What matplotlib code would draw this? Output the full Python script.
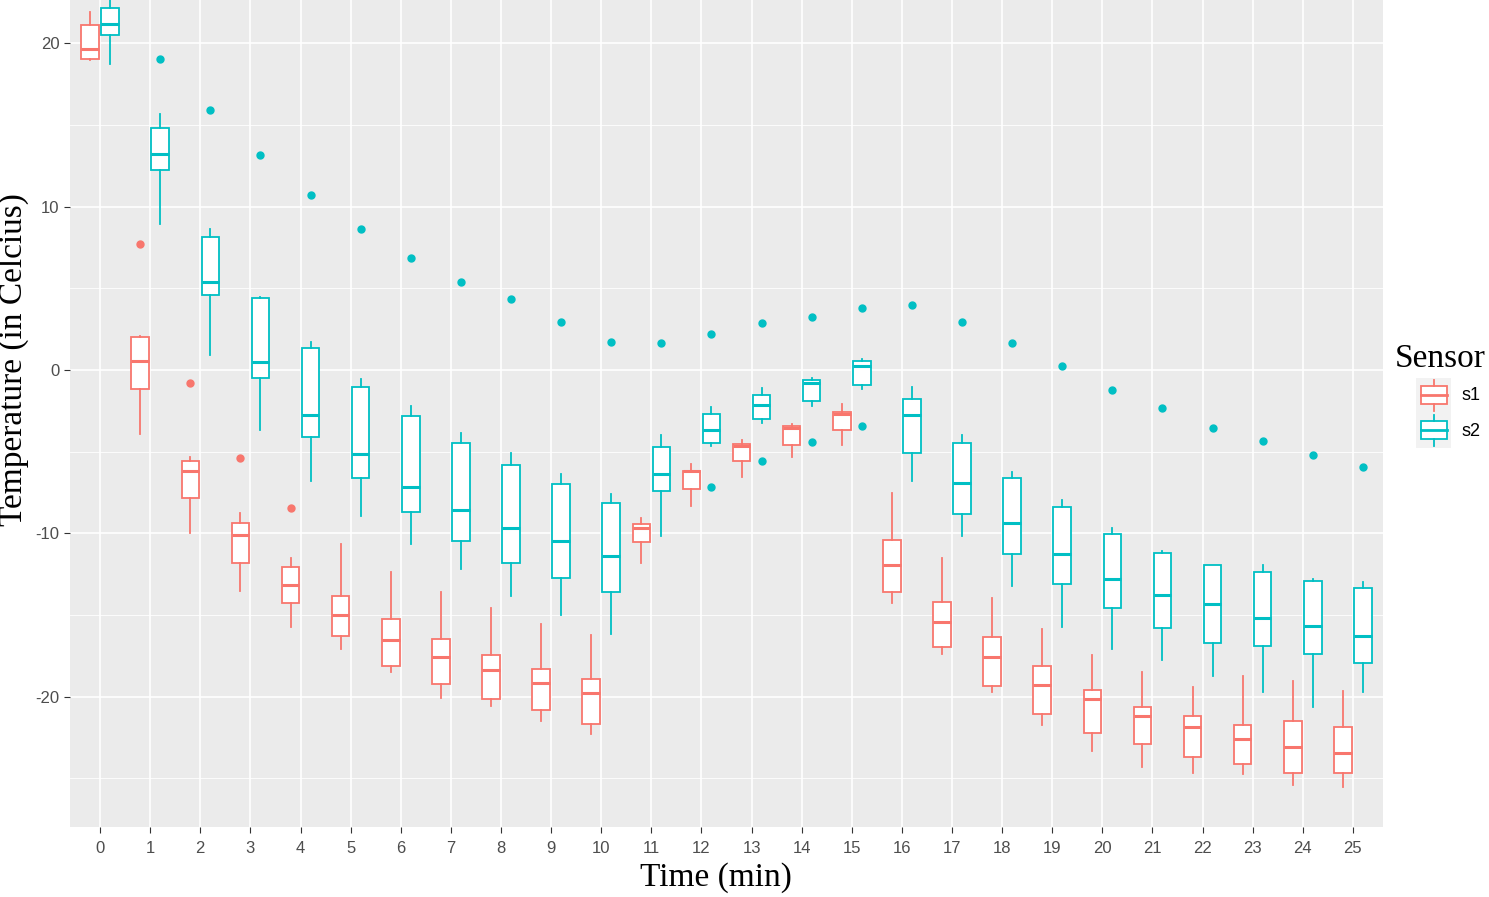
import matplotlib
matplotlib.use("Agg")
import matplotlib.pyplot as plt
from matplotlib.patches import Rectangle
from matplotlib.lines import Line2D

# ---- data ----
times = list(range(26))
tick_labels = [str(t) for t in times]

s1_low = [19.0, -3.94, -9.99, -13.5, -15.7, -17.1, -18.47, -20.07, -20.54, -21.48, -22.28,
          -11.84, -8.3, -6.57, -5.34, -4.57, -14.28, -17.38, -19.73, -21.73, -23.3,
          -24.31, -24.68, -24.72, -25.4, -25.5]
s1_q1 = [19.03, -1.14, -7.81, -11.83, -14.27, -16.27, -18.12, -19.22, -20.14, -20.82, -21.67,
         -10.53, -7.28, -5.59, -4.57, -3.65, -13.57, -16.93, -19.34, -21.05, -22.2,
         -22.9, -23.67, -24.1, -24.68, -24.68]
s1_med = [19.66, 0.55, -6.18, -10.08, -13.15, -14.98, -16.54, -17.58, -18.33, -19.15, -19.79,
          -9.64, -6.2, -4.67, -3.53, -2.67, -11.93, -15.44, -17.58, -19.26, -20.15,
          -21.18, -21.87, -22.58, -23.05, -23.42]
s1_q3 = [21.11, 2.04, -5.57, -9.38, -12.05, -13.82, -15.22, -16.49, -17.44, -18.31, -18.89,
         -9.43, -6.15, -4.55, -3.45, -2.55, -10.4, -14.18, -16.32, -18.12, -19.6,
         -20.6, -21.16, -21.73, -21.46, -21.87]
s1_high = [21.93, 2.1, -5.3, -8.77, -11.5, -10.65, -12.38, -13.6, -14.54, -15.55, -16.24,
           -9.05, -5.77, -4.3, -3.32, -2.08, -7.55, -11.52, -13.97, -15.85, -17.44,
           -18.5, -19.38, -18.73, -19.01, -19.65]
s1_out_t = [1, 2, 3, 4]
s1_out_v = [7.7, -0.78, -5.41, -8.47]

s2_low = [18.71, 8.93, 0.9, -3.67, -6.79, -8.92, -10.66, -12.16, -13.84, -14.99, -16.16,
          -10.14, -4.63, -3.22, -2.2, -1.16, -6.77, -10.16, -13.22, -15.71, -17.09,
          -17.75, -18.73, -19.69, -20.64, -19.69]
s2_q1 = [20.48, 12.26, 4.57, -0.51, -4.1, -6.63, -8.71, -10.47, -11.79, -12.71, -13.6,
         -7.38, -4.49, -3.02, -1.92, -0.9, -5.06, -8.83, -11.26, -13.1, -14.58,
         -15.77, -16.69, -16.89, -17.38, -17.91]
s2_med = [21.18, 13.2, 5.39, 0.49, -2.75, -5.16, -7.15, -8.54, -9.67, -10.49, -11.41,
          -6.35, -3.67, -2.12, -0.82, 0.24, -2.75, -6.9, -9.34, -11.28, -12.77,
          -13.77, -14.32, -15.16, -15.65, -16.28]
s2_q3 = [22.13, 14.81, 8.12, 4.43, 1.35, -1.02, -2.82, -4.49, -5.81, -6.99, -8.12,
         -4.73, -2.71, -1.51, -0.59, 0.53, -1.79, -4.45, -6.59, -8.37, -10.04,
         -11.22, -11.96, -12.34, -12.92, -13.36]
s2_high = [23.2, 15.65, 8.61, 4.5, 1.73, -0.57, -2.19, -3.84, -5.06, -6.35, -7.58,
           -4.0, -2.24, -1.1, -0.47, 0.65, -1.02, -3.98, -6.22, -7.96, -9.69,
           -11.08, -11.93, -11.95, -12.81, -13.0]
s2_out_t = [1, 2, 3, 4, 5, 6, 7, 8, 9, 10, 11, 12, 12, 13, 13, 14, 14, 15, 15,
            16, 17, 18, 19, 20, 21, 22, 23, 24, 25]
s2_out_v = [19.05, 15.91, 13.14, 10.73, 8.61, 6.87, 5.39, 4.35, 2.94, 1.74, 1.65, 2.2, -7.16,
            2.86, -5.59, 3.23, -4.39, 3.77, -3.45, 3.98, 2.96, 1.65, 0.24, -1.22, -2.34,
            -3.55, -4.36, -5.22, -5.95]

series_names = ["s1", "s2"]
colors = {"s1": "#F8766D", "s2": "#00BFC4"}

# ---- figure ----
W, H = 1489, 897
fig = plt.figure(figsize=(W / 100, H / 100), dpi=100)
fig.patch.set_facecolor("white")

left, right, top, bottom = 70, 1383, 0, 827
ax = fig.add_axes([left / W, 1 - bottom / H, (right - left) / W, (bottom - top) / H])
ax.set_facecolor("#EBEBEB")
for s in ax.spines.values():
    s.set_visible(False)

ax.set_xlim(-0.6, 25.6)
ax.set_ylim(-27.97, 22.65)

# grid
for y in [-25, -15, -5, 5, 15]:
    ax.axhline(y, color="white", lw=0.6, zorder=0)
for y in [-20, -10, 0, 10, 20]:
    ax.axhline(y, color="white", lw=1.2, zorder=0)
for x in times:
    ax.axvline(x, color="white", lw=1.2, zorder=0)

def make_stats(low, q1, med, q3, high, out_t, out_v):
    stats = []
    for i, t in enumerate(times):
        fl = [v for tt, v in zip(out_t, out_v) if tt == t]
        stats.append(dict(med=med[i], q1=q1[i], q3=q3[i], whislo=low[i], whishi=high[i], fliers=fl))
    return stats

data = {
    "s1": make_stats(s1_low, s1_q1, s1_med, s1_q3, s1_high, s1_out_t, s1_out_v),
    "s2": make_stats(s2_low, s2_q1, s2_med, s2_q3, s2_high, s2_out_t, s2_out_v),
}
offsets = {"s1": -0.2, "s2": 0.2}

for name in series_names:
    c = colors[name]
    ax.bxp(data[name], positions=[t + offsets[name] for t in times], widths=0.35,
           patch_artist=True, showcaps=False, manage_ticks=False,
           boxprops=dict(facecolor="white", edgecolor=c, linewidth=1.3),
           medianprops=dict(color=c, linewidth=2.2, solid_capstyle="butt"),
           whiskerprops=dict(color=c, linewidth=1.3),
           flierprops=dict(marker="o", markerfacecolor=c, markeredgecolor=c, markersize=5),
           zorder=3)

ax.set_xticks(times)
ax.set_xticklabels(tick_labels)
ax.set_yticks([-20, -10, 0, 10, 20])
ax.set_yticklabels(["-20", "-10", "0", "10", "20"])
ax.tick_params(axis="both", colors="#333333", length=4, width=0.8, labelcolor="#4D4D4D",
               labelsize=12)
ax.tick_params(axis="x", pad=6)
for lab in ax.get_xticklabels() + ax.get_yticklabels():
    lab.set_family("Liberation Sans")

# axis titles
fig.text(14 / W, 1 - 360 / H, "Temperature (in Celcius)", rotation=90, ha="center", va="center",
         fontsize=24, family="Liberation Serif", color="black")
fig.text(716 / W, 1 - 878 / H, "Time (min)", ha="center", va="center",
         fontsize=24, family="Liberation Serif", color="black")

# legend (manual, ggplot-like)
fig.text(1395 / W, 1 - 359 / H, "Sensor", ha="left", va="center",
         fontsize=24, family="Liberation Serif", color="black")
lax = fig.add_axes([0, 0, 1, 1])
lax.set_xlim(0, W)
lax.set_ylim(H, 0)
lax.axis("off")
for k, name in enumerate(series_names):
    c = colors[name]
    y0 = 378 + k * 35
    lax.add_patch(Rectangle((1416, y0), 35, 35, facecolor="#F2F2F2", edgecolor="none"))
    lax.add_patch(Rectangle((1421, y0 + 8), 26, 18, facecolor="white", edgecolor=c, lw=1.3))
    lax.add_line(Line2D([1421, 1447], [y0 + 17, y0 + 17], color=c, lw=2.0))
    lax.add_line(Line2D([1434, 1434], [y0 + 2, y0 + 8], color=c, lw=1.3))
    lax.add_line(Line2D([1434, 1434], [y0 + 26, y0 + 33], color=c, lw=1.3))
    lax.text(1461, y0 + 18, name, ha="left", va="center", fontsize=13,
             family="Liberation Sans", color="black")

fig.savefig("out.png", dpi=100)
